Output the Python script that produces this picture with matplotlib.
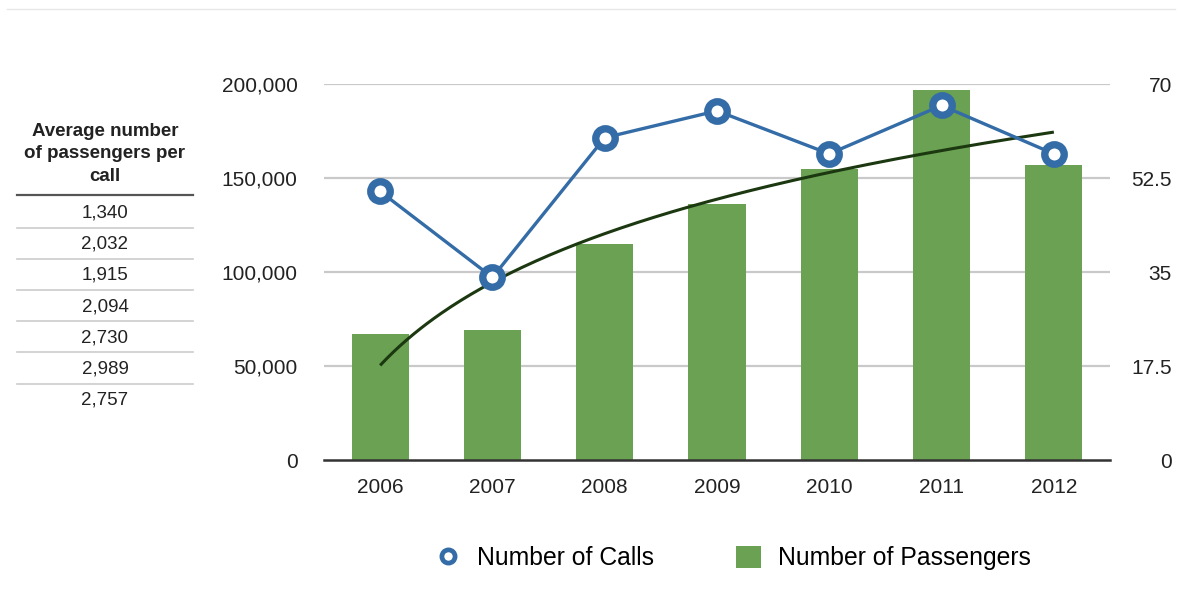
import numpy as np
import matplotlib
matplotlib.use("Agg")
import matplotlib.pyplot as plt
from matplotlib.lines import Line2D
from matplotlib.patches import Patch

plt.rcParams['font.family'] = ['Liberation Sans', 'DejaVu Sans']

years = ['2006', '2007', '2008', '2009', '2010', '2011', '2012']
passengers = [67000, 69000, 115000, 136000, 155000, 197000, 157000]
calls = [50, 34, 60, 65, 57, 66, 57]
avg_per_call = ['1,340', '2,032', '1,915', '2,094', '2,730', '2,989', '2,757']
left_ticks = [0, 50000, 100000, 150000, 200000]
left_tick_labels = ['0', '50,000', '100,000', '150,000', '200,000']
right_ticks = [0, 17.5, 35, 52.5, 70]
right_tick_labels = ['0', '17.5', '35', '52.5', '70']
table_header = 'Average number\nof passengers per\ncall'

W, H = 1182, 590
fig = plt.figure(figsize=(W / 100, H / 100), dpi=100)
fig.patch.set_facecolor('white')

def fx(px):
    return px / W

def fy(py):
    return 1 - py / H

ax = fig.add_axes([fx(324), fy(460), fx(1110) - fx(324), fy(84) - fy(460)])
ax2 = ax.twinx()

x = np.arange(len(years))
bar_color = '#6aa153'
ax.bar(x, passengers, width=0.51, color=bar_color, zorder=2)

# logarithmic trend line of passengers
lx = np.log(x + 1)
b, a = np.polyfit(lx, passengers, 1)
xs = np.linspace(0, len(years) - 1, 200)
ax.plot(xs, a + b * np.log(xs + 1), color='#1c3810', lw=2.2, zorder=3,
        solid_capstyle='butt')

ax.set_xlim(-0.5, len(years) - 0.5)
ax.set_ylim(0, 200000)
ax.set_yticks(left_ticks)
ax.set_yticklabels(left_tick_labels, fontsize=15, color='#222222')
ax.set_xticks(x)
ax.set_xticklabels(years, fontsize=15, color='#222222')
ax.tick_params(axis='y', length=0, pad=19)
ax.tick_params(axis='x', length=0, pad=13)
for yv in left_ticks[1:]:
    ax.axhline(yv, color='#c9c9c9', lw=1.6, zorder=1)
for s in ['top', 'right', 'left']:
    ax.spines[s].set_visible(False)
ax.spines['bottom'].set_color('#333333')
ax.spines['bottom'].set_linewidth(1.8)
ax.spines['bottom'].set_zorder(4)

line_color = '#336ca6'
ax2.plot(x, calls, color=line_color, lw=2.4, marker='o', markersize=14,
         markerfacecolor='white', markeredgecolor=line_color,
         markeredgewidth=5.3, zorder=5)
ax2.set_ylim(0, 70)
ax2.set_yticks(right_ticks)
ax2.set_yticklabels(right_tick_labels, fontsize=15, color='#222222')
ax2.tick_params(axis='y', length=0, pad=44.5)
for lbl in ax2.get_yticklabels():
    lbl.set_horizontalalignment('right')
for s in ['top', 'right', 'left', 'bottom']:
    ax2.spines[s].set_visible(False)

# top separator line
fig.add_artist(Line2D([fx(7), fx(1175)], [fy(9), fy(9)], color='#e6e6e6', lw=1.0))

# table on the left
fig.text(fx(105), fy(154), table_header, ha='center', va='center',
         fontsize=13.5, fontweight='bold', color='#222222', linespacing=1.42)
fig.add_artist(Line2D([fx(17), fx(193)], [fy(195), fy(195)], color='#555555', lw=1.6))
row0, step = 213, 31.2
for i, v in enumerate(avg_per_call):
    yc = row0 + i * step
    fig.text(fx(105), fy(yc), v, ha='center', va='center', fontsize=13.5, color='#222222')
    if i < len(avg_per_call) - 1:
        yl = yc + 14.5
        fig.add_artist(Line2D([fx(17), fx(193)], [fy(yl), fy(yl)], color='#cccccc', lw=1.2))

# legend
handles = [Line2D([], [], color=line_color, lw=0, marker='o', markersize=9.5,
                  markerfacecolor='white', markeredgecolor=line_color, markeredgewidth=3.4),
           Patch(facecolor=bar_color, edgecolor='none')]
fig.legend(handles, ['Number of Calls', 'Number of Passengers'], loc='center',
           bbox_to_anchor=(fx(733), fy(558)), ncol=2, frameon=False, fontsize=17.8,
           handlelength=1.0, handleheight=1.0, handletextpad=0.7, columnspacing=3.3)

fig.savefig('out.png', dpi=100, facecolor='white')
